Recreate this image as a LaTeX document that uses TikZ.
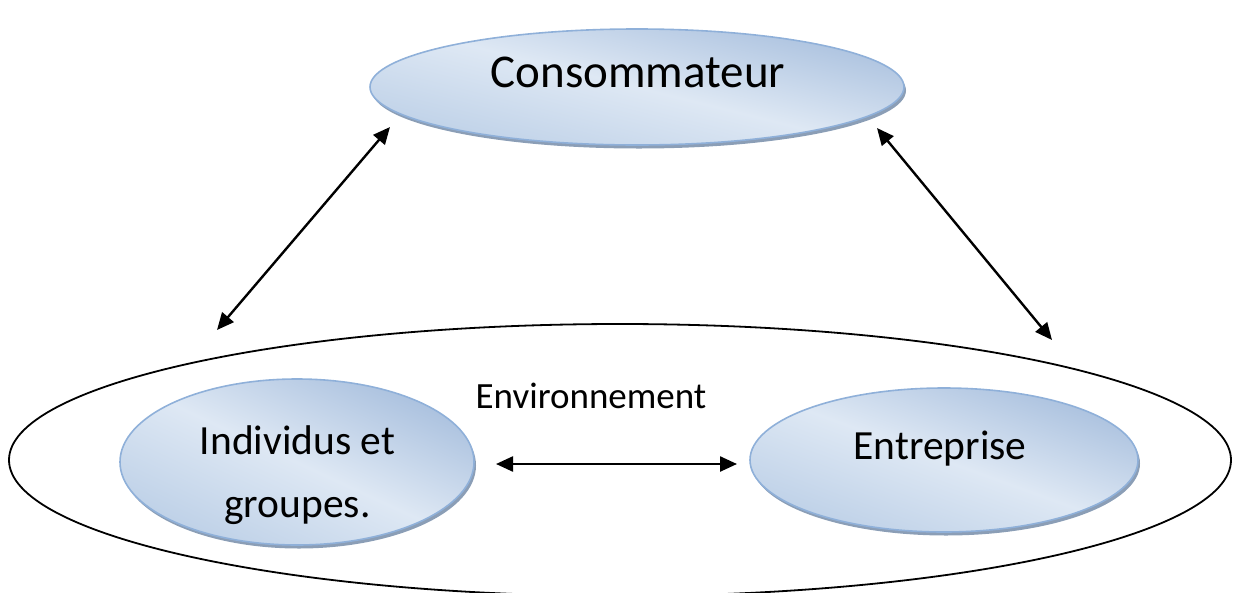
\documentclass[tikz,border=0pt]{standalone}
\usepackage{fontspec}
\setmainfont{Carlito}
\usetikzlibrary{shapes.geometric,arrows.meta,shadows}

\definecolor{bubbleDark}{HTML}{A9C0DE}
\definecolor{bubbleLight}{HTML}{DEE8F4}
\definecolor{bubbleMid}{HTML}{BDD0E7}
\definecolor{bubbleEdge}{HTML}{8FB0D9}
\definecolor{bubbleShadow}{HTML}{7E93AE}

\tikzset{
  bubble/.style={ellipse, inner sep=0pt, draw=bubbleEdge, line width=1.6pt,
    top color=bubbleDark, bottom color=bubbleMid, middle color=bubbleLight,
    shading angle=-20,
    drop shadow={shadow xshift=2pt, shadow yshift=-3.5pt, fill=bubbleShadow, opacity=0.9}},
  frame/.style={ellipse, inner sep=0pt, draw=black, line width=1.8pt},
  label/.style={inner sep=0pt, anchor=base, text=black},
  link/.style={line width=2.4pt, {Triangle[length=17pt,width=15pt]}-{Triangle[length=17pt,width=15pt]}}
}

\begin{document}
\begin{tikzpicture}[x=1pt,y=-1pt]
  \useasboundingbox (0,0) rectangle (1234,592);
  \clip (0,0) rectangle (1234,592);

  % outer environment ring
  \node[frame, minimum width=1222pt, minimum height=272pt] (env) at (620,460) {};
  \node[label, font=\fontsize{37}{44}\selectfont] (envT) at (591,408) {Environnement};

  % the three actors
  \node[bubble, minimum width=534pt, minimum height=116pt, shading angle=-14] (cons) at (637,87) {};
  \node[label, font=\fontsize{47}{56}\selectfont] (consT) at (638,87) {Consommateur};

  \node[bubble, minimum width=354pt, minimum height=166pt, shading angle=-25] (ind) at (297,462) {};
  % base anchor of a two-line node sits on the last line
  \node[label, font=\fontsize{41.5}{63}\selectfont, align=center] (indT) at (297.5,517) {Individus et\\groupes.};

  \node[bubble, minimum width=388pt, minimum height=144pt] (ent) at (944,460) {};
  \node[label, font=\fontsize{41.5}{50}\selectfont] (entT) at (940,459) {Entreprise};

  % free ends of the relation arrows
  \coordinate (a1) at (217,330);
  \coordinate (a2) at (390,127);
  \coordinate (b1) at (877,128);
  \coordinate (b2) at (1052,340);
  \coordinate (c1) at (496,464);
  \coordinate (c2) at (737,464);

  \draw[link] (a1) -- (a2);
  \draw[link] (b1) -- (b2);
  \draw[link] (c1) -- (c2);
\end{tikzpicture}
\end{document}
